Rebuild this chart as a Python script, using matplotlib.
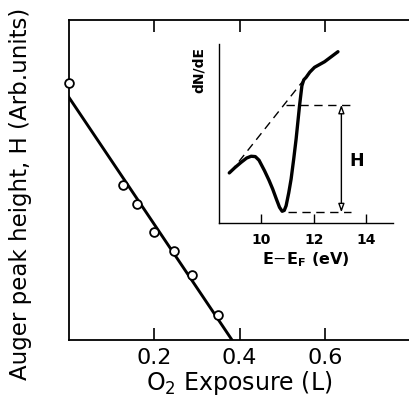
import numpy as np
import matplotlib.pyplot as plt

# main panel: Auger peak height vs O2 exposure
exposure = [0.0, 0.128, 0.161, 0.200, 0.246, 0.289, 0.349]
peak_height = [0.802, 0.484, 0.424, 0.336, 0.278, 0.202, 0.077]
fit_x = [0.0, 0.382]
fit_y = [0.760, 0.0]
main_ticks = [0.2, 0.4, 0.6]
main_ticklabels = ['0.2', '0.4', '0.6']

# inset: dN/dE spectrum
energy = [8.79, 9.00, 9.24, 9.45, 9.62, 9.78, 9.92, 10.13, 10.30, 10.44, 10.58,
          10.70, 10.80, 10.88, 10.95, 11.05, 11.14, 11.24, 11.33, 11.46, 11.55,
          11.62, 11.71, 11.85, 12.03, 12.41, 12.92]
dnde = [0.281, 0.310, 0.340, 0.364, 0.374, 0.372, 0.352, 0.293, 0.240, 0.191, 0.135,
        0.089, 0.067, 0.072, 0.098, 0.170, 0.247, 0.360, 0.470, 0.656, 0.767,
        0.800, 0.814, 0.843, 0.870, 0.901, 0.957]
base_x = [8.83, 11.65]
base_y = [0.284, 0.805]
top_level = 0.661
bottom_level = 0.061
top_span = [10.95, 13.55]
bottom_span = [11.01, 13.43]
arrow_x = 13.05
inset_ticks = [10, 12, 14]

fig = plt.figure(figsize=(4.09, 4.06), dpi=100)

ax = fig.add_axes([68.5 / 409, 65.3 / 406, 342 / 409, 319.7 / 406])
ax.plot(fit_x, fit_y, color='black', lw=2.1, zorder=2)
ax.plot(exposure, peak_height, 'o', ms=6.3, mfc='white', mec='black', mew=1.3,
        zorder=3, clip_on=False)
ax.set_xlim(0, 0.8)
ax.set_ylim(0, 1)
ax.set_xticks(main_ticks)
ax.set_xticklabels(main_ticklabels, fontsize=16)
ax.set_yticks([])
ax.tick_params(axis='x', top=True, direction='in', length=8.5, width=1.2, pad=5)
for s in ax.spines.values():
    s.set_linewidth(1.3)
ax.set_xlabel('O$_2$ Exposure (L)', fontsize=17, labelpad=1)
ax.set_ylabel('Auger peak height, H (Arb.units)', fontsize=16.5)
ax.yaxis.set_label_coords(-0.108, 0.458)

ins = fig.add_axes([219 / 409, (406 - 224.3) / 406, 173.7 / 409, 179.3 / 406])
ins.plot(energy, dnde, color='black', lw=2.4, solid_capstyle='round',
         solid_joinstyle='round')
ins.plot(base_x, base_y, color='black', lw=1.0, dashes=(6, 4))
ins.plot(top_span, [top_level, top_level], color='black', lw=1.0, dashes=(6, 4))
ins.plot(bottom_span, [bottom_level, bottom_level], color='black', lw=1.0, dashes=(6, 4))
ins.annotate('', xy=(arrow_x, bottom_level), xytext=(arrow_x, top_level),
             arrowprops=dict(arrowstyle='<|-|>,head_length=0.5,head_width=0.18',
                             fc='white', ec='black', lw=1.0, shrinkA=0, shrinkB=0))
ins.text(arrow_x + 0.3, 0.355, 'H', fontsize=12.5, fontweight='bold', va='center')
ins.set_xlim(8.4, 15)
ins.set_ylim(0, 1)
ins.set_xticks(inset_ticks)
ins.set_xticklabels([str(t) for t in inset_ticks], fontsize=10, fontweight='bold')
ins.set_yticks([])
ins.tick_params(axis='x', direction='in', length=6.5, width=1.0, pad=6)
ins.spines['top'].set_visible(False)
ins.spines['right'].set_visible(False)
ins.spines['left'].set_linewidth(1.0)
ins.spines['bottom'].set_linewidth(1.0)
ins.patch.set_alpha(0)
ins.set_xlabel('E$-$E$_\\mathbf{F}$ (eV)', fontsize=11.5, fontweight='bold', labelpad=3)
ins.set_ylabel('dN/dE', fontsize=10, fontweight='bold')
ins.yaxis.set_label_coords(-0.075, 0.86)

fig.savefig('out.png', dpi=100)
